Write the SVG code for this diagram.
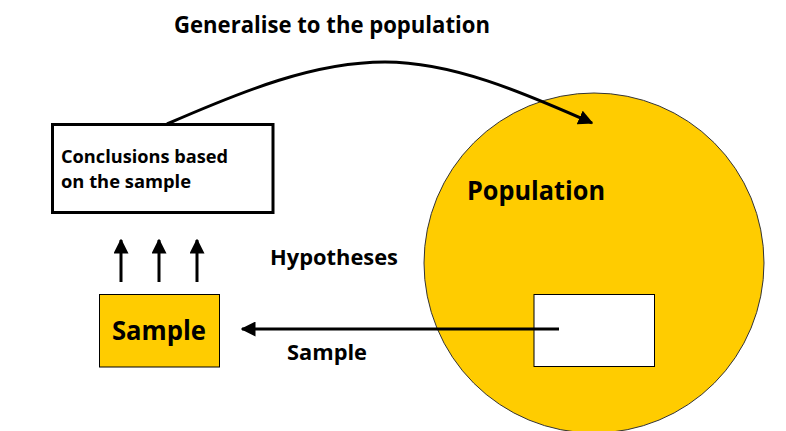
<svg xmlns="http://www.w3.org/2000/svg" width="786" height="431" viewBox="0 0 786 431">
<style>
text{font-family:"Open Sans","Noto Sans","Liberation Sans",sans-serif;font-weight:bold;fill:#000}
.conn{fill:none;stroke:#000;stroke-width:3}
</style>
<defs>
<marker id="ah" viewBox="0 0 10 10" refX="9" refY="5" markerWidth="5" markerHeight="5" markerUnits="strokeWidth" orient="auto">
<path d="M0,0 L10,5 L0,10 Z" fill="#000"/>
</marker>
</defs>
<rect width="786" height="431" fill="#fff"/>
<g id="population">
<circle cx="594" cy="263" r="170" fill="#FFCC00" stroke="#333" stroke-width="1"/>
<text x="467" y="200" font-size="27" textLength="138" lengthAdjust="spacingAndGlyphs">Population</text>
<rect x="534" y="294.5" width="120.5" height="72" fill="#fff" stroke="#000" stroke-width="1"/>
</g>
<g id="conclusions">
<rect x="52.5" y="124.5" width="220.5" height="88" fill="#fff" stroke="#000" stroke-width="3"/>
<text x="61" y="163" font-size="18" textLength="167" lengthAdjust="spacingAndGlyphs">Conclusions based</text>
<text x="61" y="188" font-size="18" textLength="130" lengthAdjust="spacingAndGlyphs">on the sample</text>
</g>
<g id="sample">
<rect x="99.5" y="294.5" width="120" height="72.5" fill="#FFCC00" stroke="#000" stroke-width="1"/>
<text x="112" y="340" font-size="26" textLength="94" lengthAdjust="spacingAndGlyphs">Sample</text>
</g>
<g id="labels">
<text x="174" y="33" font-size="23" textLength="316" lengthAdjust="spacingAndGlyphs">Generalise to the population</text>
<text x="270" y="265" font-size="21" textLength="128" lengthAdjust="spacingAndGlyphs">Hypotheses</text>
<text x="287" y="360" font-size="21" textLength="80" lengthAdjust="spacingAndGlyphs">Sample</text>
</g>
<g id="connectors">
<path class="conn" d="M167,124 C245,90 315,62 385,62 C452,62 522,92 592,123" marker-end="url(#ah)"/>
<line class="conn" x1="559" y1="329" x2="242" y2="329" marker-end="url(#ah)"/>
<line class="conn" x1="121" y1="282" x2="121" y2="240" marker-end="url(#ah)"/>
<line class="conn" x1="159" y1="282" x2="159" y2="240" marker-end="url(#ah)"/>
<line class="conn" x1="197" y1="282" x2="197" y2="240" marker-end="url(#ah)"/>
</g>
</svg>
